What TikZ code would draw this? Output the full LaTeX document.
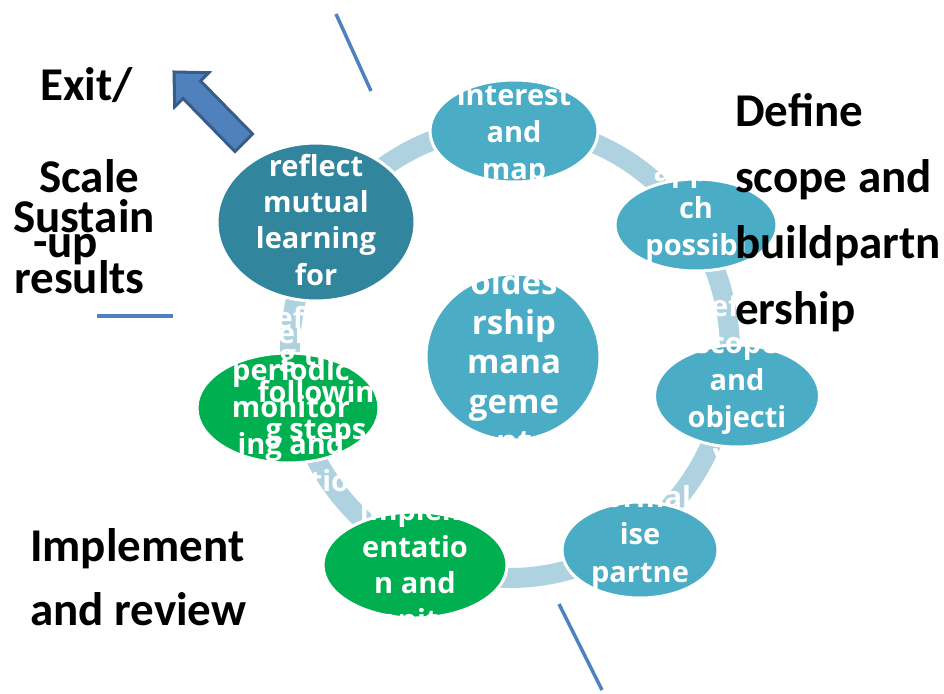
\documentclass[tikz,border=0pt]{standalone}
\usepackage{fontspec}
\setmainfont{Carlito}
\newfontfamily\wfont{Open Sans}
\usetikzlibrary{shapes.geometric}
\definecolor{cyc}{HTML}{4BACC6}
\definecolor{cycdark}{HTML}{31859C}
\definecolor{cycgreen}{HTML}{00B050}
\definecolor{bandcol}{HTML}{AED2DF}
\definecolor{lineblue}{HTML}{4F81BD}
\definecolor{arrowedge}{HTML}{385D8A}
\begin{document}
\begin{tikzpicture}[x=1pt,y=-1pt,
  ell/.style={ellipse,draw=white,line width=3pt,inner sep=0pt},
  wt/.style={font=\wfont\bfseries\fontsize{29}{29}\selectfont,text=white,anchor=base,inner sep=0pt},
  wtc/.style={wt,font=\wfont\bfseries\fontsize{33}{33}\selectfont},
  bt/.style={font=\bfseries\fontsize{47}{47}\selectfont,text=black,anchor=base west,inner sep=0pt},
  bl/.style={draw=lineblue,line width=3.5pt},
  band/.style={draw=bandcol,line width=20pt}]
\useasboundingbox (0,0) rectangle (944,693);
\fill[white] (0,0) rectangle (944,693);
% cycle band
\draw[band] (510,352) ellipse [x radius=220, y radius=226];
% ellipses
\node[ell,fill=cyc,minimum width=168pt,minimum height=102pt] (etop) at (514,131) {};
\node[ell,fill=cyc,minimum width=162pt,minimum height=92pt] (eright1) at (696,225) {};
\node[ell,fill=cyc,minimum width=165pt,minimum height=102pt] (eright2) at (737,396) {};
\node[ell,fill=cyc,minimum width=156pt,minimum height=96pt] (ebr) at (640,550) {};
\node[ell,fill=cycgreen,minimum width=184pt,minimum height=106pt] (ebg) at (415,565) {};
\node[ell,fill=cycgreen,minimum width=182pt,minimum height=110pt] (elg) at (288,408) {};
\node[ell,fill=cycdark,minimum width=198pt,minimum height=158pt] (erefl) at (316,222) {};
\node[ell,fill=cyc,minimum width=174pt,minimum height=166pt] (ectr) at (513,357) {};
% white texts
\foreach \t/\yy [count=\i] in {interest/105,and/142,map/179}
  \node[wt] (ttop\i) at (514,\yy) {\t};
\foreach \t/\yy [count=\i] in {appro/181,ch/218,possibl/255}
  \node[wt] (tra\i) at (696,\yy) {\t};
\foreach \t/\yy [count=\i] in {Define/316,scope/353,and/390,objecti/427,ves/464}
  \node[wt] (trb\i) at (737,\yy) {\t};
\foreach \t/\yy [count=\i] in {Formal/507,ise/544,partne/582,rship/619}
  \node[wt] (tbr\i) at (640,\yy) {\t};
\foreach \t/\yy [count=\i] in {Implem/520,entatio/557,n and/593,monitori/630}
  \node[wt] (tbg\i) at (415,\yy) {\t};
\foreach \t/\yy [count=\i] in {Interim/343,periodic/380,monitor/417,ing and/454,evaluation/491}
  \node[wt] (tlga\i) at (291,\yy) {\t};
\foreach \t/\yy [count=\i] in {Referrin/328,g the/365,followin/402,g steps/439}
  \node[wt] (tlgb\i) at (316,\yy) {\t};
\foreach \t/\yy [count=\i] in {reflect/176,mutual/212,learning/248,for/285}
  \node[wt] (trefl\i) at (316,\yy) {\t};
\foreach \t/\yy [count=\i] in {oldes/294,rship/334,mana/373,geme/413,nt/453}
  \node[wtc] (tctr\i) at (514,\yy) {\t};
% black texts
\node[bt] (bexit) at (40,100) {Exit/};
\node[bt] (bscale) at (39,192) {Scale};
\node[bt] (bsust) at (13,232) {Sustain};
\node[bt] (bup) at (33,257) {-up};
\node[bt] (bres) at (14,293) {results};
\node[bt] (bdef1) at (735,126) {Define};
\node[bt] (bdef2) at (735,192) {scope and};
\node[bt] (bdef3) at (735,258) {buildpartn};
\node[bt] (bdef4) at (735,324) {ership};
\node[bt] (bimp1) at (30,561) {Implement};
\node[bt] (bimp2) at (30,625) {and review};
% blue lines
\draw[bl] (336,14) -- (371,91);
\draw[bl] (559,604) -- (602,690);
\draw[bl,line width=4.5pt] (97,316) -- (173,316);
% block arrow
\draw[fill=lineblue,draw=arrowedge,line width=3pt,line join=miter]
  (252.5,133.9) -- (234.9,151.5) -- (183.1,98.5) -- (174.7,106.7) -- (174,72)
  -- (208.7,72.7) -- (200.5,80.9) -- cycle;
\end{tikzpicture}
\end{document}
